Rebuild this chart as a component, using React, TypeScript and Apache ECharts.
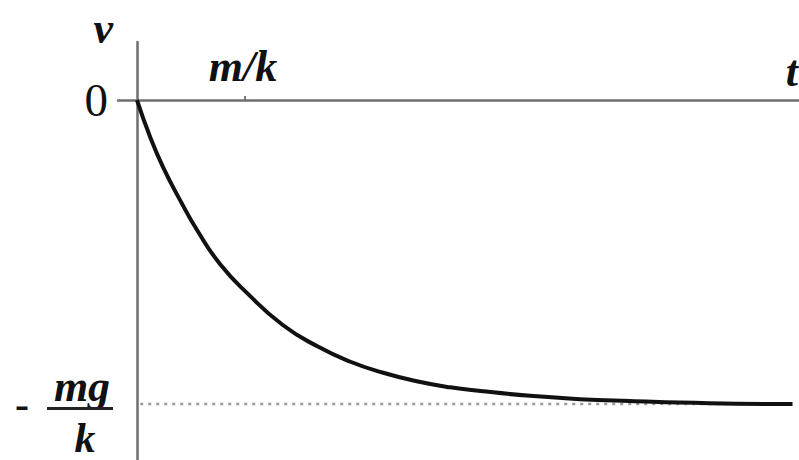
import React, { useEffect, useRef } from "react";
import * as echarts from "echarts";

// time in units of m/k, velocity in units of mg/k
const curveT = [0, 0.12, 0.24, 0.4, 0.56, 0.77, 1.02, 1.35, 1.67, 1.97, 2.28, 2.59, 2.9, 3.18, 3.64, 4.1, 4.56, 5.3, 6.07];
const curveV = [0, -0.12, -0.22, -0.33, -0.43, -0.54, -0.635, -0.74, -0.81, -0.86, -0.897, -0.925, -0.945, -0.957, -0.973, -0.984, -0.99, -0.997, -1.0];
const asymptoteT = [0.03, 6.05];
const asymptoteV = [-1, -1];
const xTickValues = [1];
const xTickLabels = ["m/k"];
const yTickValues = [0];
const yTickLabels = ["0"];
const terminalValue = -1;

const FONT = "Liberation Serif";

export default function App() {
  const ref = useRef<HTMLDivElement>(null);
  useEffect(() => {
    document.body.style.margin = "0";
    const chart = echarts.init(ref.current!, null, { renderer: "svg" });
    chart.setOption({
      animation: false,
      backgroundColor: "#ffffff",
      grid: { left: 118, right: 0, top: 42, bottom: 0, outerBoundsMode: "none" },
      xAxis: {
        type: "value",
        min: -0.176,
        max: 6.13,
        name: "t",
        nameLocation: "end",
        nameGap: 0,
        nameTextStyle: {
          fontFamily: FONT, fontStyle: "italic", fontWeight: "bold", fontSize: 44, color: "#111",
          align: "right", verticalAlign: "bottom", padding: [0, 1, 7, 0],
        },
        axisLine: { onZero: true, lineStyle: { color: "#6e6e6e", width: 2.5 } },
        axisTick: { show: true, inside: true, length: 4, customValues: xTickValues, lineStyle: { color: "#777", width: 2 } },
        axisLabel: { show: false },
        splitLine: { show: false },
      },
      yAxis: {
        type: "value",
        min: -1.184,
        max: 0.191,
        name: "v",
        nameLocation: "end",
        nameGap: 0,
        nameTextStyle: {
          fontFamily: FONT, fontStyle: "italic", fontWeight: "bold", fontSize: 44, color: "#111",
          align: "right", verticalAlign: "bottom", padding: [0, 24, -8, 0],
        },
        axisLine: { onZero: true, lineStyle: { color: "#6e6e6e", width: 2.5 } },
        axisTick: { show: false },
        axisLabel: {
          margin: 10, customValues: yTickValues,
          formatter: (v: number) => yTickLabels[yTickValues.indexOf(v)] ?? "",
          fontFamily: FONT, fontSize: 47, color: "#111",
          padding: [14, 0, 0, 0],
        },
        splitLine: { show: false },
      },
      series: [
        {
          type: "line",
          data: asymptoteT.map((t, i) => [t, asymptoteV[i]]),
          showSymbol: false,
          lineStyle: { color: "#9a9a9a", width: 2.5, type: [3, 5] },
          z: 1,
        },
        {
          type: "line",
          data: curveT.map((t, i) => [t, curveV[i]]),
          smooth: 0.5,
          showSymbol: false,
          lineStyle: { color: "#111", width: 4 },
          z: 3,
        },
      ],
    });
    const p = chart.convertToPixel({ xAxisIndex: 0, yAxisIndex: 0 }, [0, terminalValue]) as number[];
    const cx = p[0], cy = p[1];
    const tickGraphics = xTickValues.map((val, i) => {
      const q = chart.convertToPixel({ xAxisIndex: 0, yAxisIndex: 0 }, [val, 0]) as number[];
      return {
        type: "text", x: q[0] - 2, y: q[1] - 12,
        style: { text: xTickLabels[i], fontFamily: FONT, fontStyle: "italic", fontWeight: "bold", fontSize: 44, fill: "#111", align: "center", verticalAlign: "bottom" },
      };
    });
    chart.setOption({
      graphic: [
        ...tickGraphics,
        { type: "text", x: cx - 115, y: cy, style: { text: "-", fontFamily: FONT, fontWeight: "bold", fontSize: 42, fill: "#111", align: "center", verticalAlign: "middle" } },
        { type: "text", x: cx - 55, y: cy + 4, style: { text: "mg", fontFamily: FONT, fontStyle: "italic", fontWeight: "bold", fontSize: 44, fill: "#111", align: "center", verticalAlign: "bottom" } },
        { type: "rect", shape: { x: cx - 90, y: cy + 3, width: 66, height: 3 }, style: { fill: "#222" } },
        { type: "text", x: cx - 52, y: cy + 34, style: { text: "k", fontFamily: FONT, fontStyle: "italic", fontWeight: "bold", fontSize: 42, lineHeight: 34, fill: "#111", align: "center", verticalAlign: "middle" } },
      ],
    });
    return () => chart.dispose();
  }, []);
  return <div ref={ref} style={{ width: 799, height: 460 }} />;
}
